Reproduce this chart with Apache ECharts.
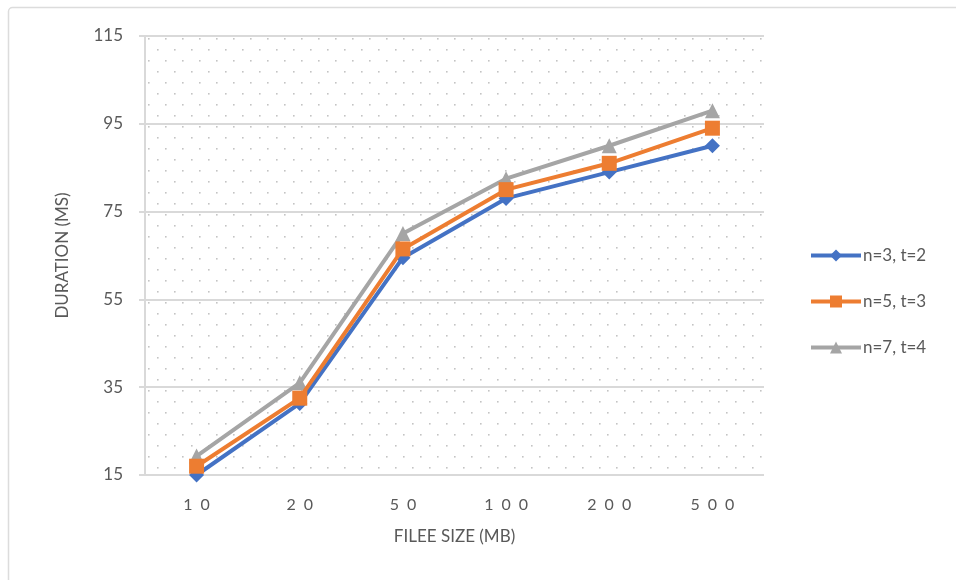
<!DOCTYPE html>
<html>
<head>
<meta charset="utf-8">
<script src="https://cdn.jsdelivr.net/npm/echarts@6/dist/echarts.min.js"></script>
<style>
  html, body { margin: 0; padding: 0; background: #ffffff; }
  #chart { width: 956px; height: 580px; }
</style>
</head>
<body>
<div id="chart"></div>
<script>
// File sizes on the x axis (MB)
const fileSizes = ['10', '20', '50', '100', '200', '500'];
// Durations in ms for each (n, t) configuration
const seriesNames = ['n=3, t=2', 'n=5, t=3', 'n=7, t=4'];
const durN3T2 = [15, 31.3, 64.5, 78, 84, 90];
const durN5T3 = [17, 32.5, 66.5, 80, 86, 94];
const durN7T4 = [19.3, 36, 70, 82.5, 90, 98];
// Value axis range
const yMin = 15, yMax = 115, yStep = 20;

const textColor = '#595959';
const gridColor = '#d9d9d9';
const fontFamily = 'Lato, "Open Sans", sans-serif';

// Staggered dot texture for the plot background
function dotPattern() {
  const c = document.createElement('canvas');
  c.width = 34; c.height = 22;
  const g = c.getContext('2d');
  g.fillStyle = '#c4c4c4';
  const dots = [[4, 5], [21, 5], [12, 16], [29, 16]];
  dots.forEach(([x, y]) => { g.fillRect(x, y, 1.6, 1.6); });
  return c;
}

const chart = echarts.init(document.getElementById('chart'), null, { renderer: 'canvas' });

const spaced = v => v.split('').join('\u2002');

chart.setOption({
  animation: false,
  backgroundColor: '#ffffff',
  textStyle: { fontFamily: fontFamily },
  graphic: [{
    type: 'rect',
    shape: { x: 8.5, y: 7.5, width: 980, height: 600, r: 4 },
    style: { fill: 'none', stroke: '#dcdcdc', lineWidth: 1.5 },
    silent: true,
    z: -10
  }],
  grid: {
    left: 145, right: 192, top: 36, bottom: 105,
    show: true,
    borderWidth: 0,
    backgroundColor: { image: dotPattern(), repeat: 'repeat' }
  },
  legend: {
    orient: 'vertical',
    left: 804,
    top: 242,
    itemWidth: 50,
    itemHeight: 15,
    itemGap: 29,
    lineStyle: { width: 4 },
    textStyle: { color: textColor, fontSize: 17, fontFamily: fontFamily, padding: [0, 0, 0, -3] },
    data: seriesNames
  },
  xAxis: {
    type: 'category',
    data: fileSizes,
    boundaryGap: true,
    name: 'FILEE SIZE (MB)',
    nameLocation: 'middle',
    nameGap: 53,
    nameTextStyle: { color: textColor, fontSize: 17, fontFamily: fontFamily },
    axisLine: { show: false },
    axisTick: { show: false },
    axisLabel: { color: textColor, fontSize: 16, margin: 22, formatter: spaced },
    splitLine: { show: false }
  },
  yAxis: {
    type: 'value',
    min: yMin, max: yMax, interval: yStep,
    name: 'DURATION (MS)',
    nameLocation: 'middle',
    nameGap: 74,
    nameRotate: 90,
    nameTextStyle: { color: textColor, fontSize: 17, fontFamily: fontFamily },
    axisLine: { show: true, lineStyle: { color: gridColor, width: 2 } },
    axisTick: { show: true, inside: false, length: 6, lineStyle: { color: gridColor, width: 2 } },
    axisLabel: { color: textColor, fontSize: 17, margin: 22 },
    splitLine: { show: true, lineStyle: { color: gridColor, width: 2 } }
  },
  series: [
    {
      name: seriesNames[0], type: 'line', data: durN3T2,
      symbol: 'diamond', symbolSize: 15,
      lineStyle: { color: '#4472C4', width: 4 },
      itemStyle: { color: '#4472C4' },
      z: 3
    },
    {
      name: seriesNames[1], type: 'line', data: durN5T3,
      symbol: 'rect', symbolSize: 15,
      lineStyle: { color: '#ED7D31', width: 4 },
      itemStyle: { color: '#ED7D31' },
      z: 4
    },
    {
      name: seriesNames[2], type: 'line', data: durN7T4,
      symbol: 'triangle', symbolSize: 15,
      lineStyle: { color: '#A5A5A5', width: 4 },
      itemStyle: { color: '#A5A5A5' },
      z: 2
    }
  ]
});
</script>
</body>
</html>
